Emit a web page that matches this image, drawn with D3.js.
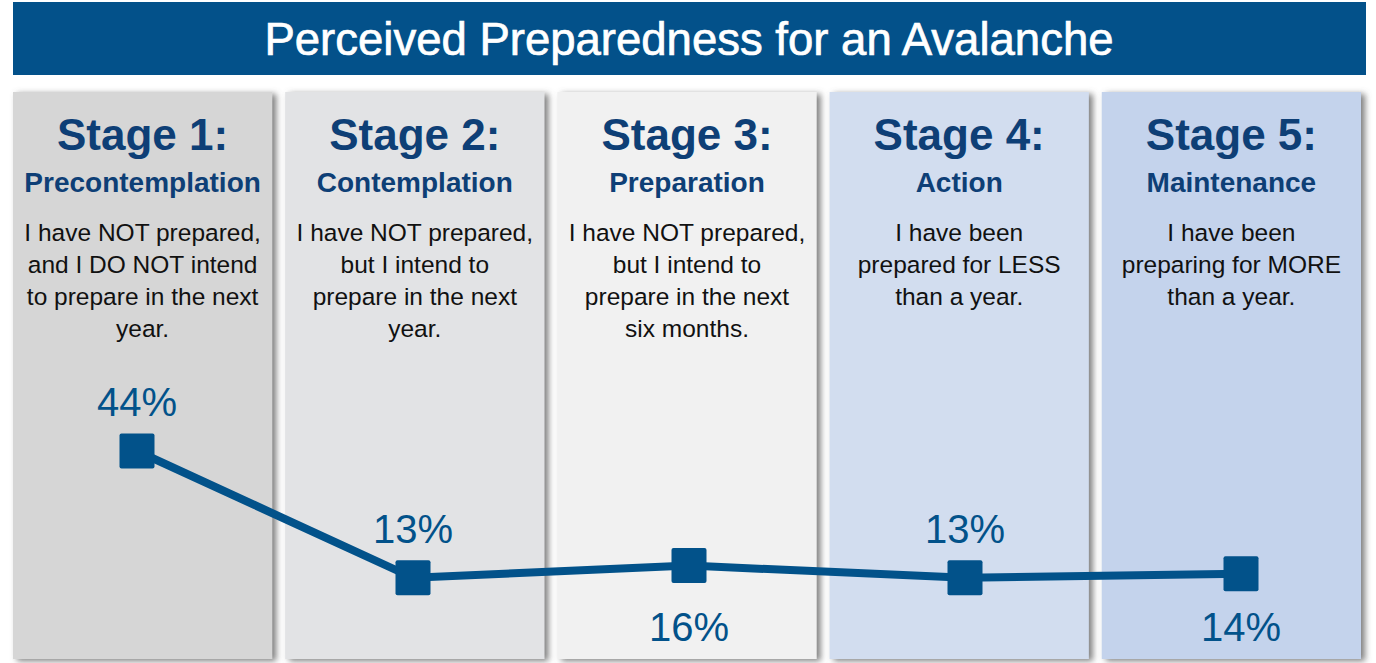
<!DOCTYPE html>
<html>
<head>
<meta charset="utf-8">
<script src="https://cdn.jsdelivr.net/npm/d3@7"></script>
<style>
  body { margin: 0; background: #fff; }
  svg { display: block; }
</style>
</head>
<body>
<div id="chart"></div>
<script>
const width = 1376;
const height = 663;

const title = "Perceived Preparedness for an Avalanche";
const stages = ["Stage 1:", "Stage 2:", "Stage 3:", "Stage 4:", "Stage 5:"];
const stageNames = ["Precontemplation", "Contemplation", "Preparation", "Action", "Maintenance"];
const descriptions = [
  ["I have NOT prepared,", "and I DO NOT intend", "to prepare in the next", "year."],
  ["I have NOT prepared,", "but I intend to", "prepare in the next", "year."],
  ["I have NOT prepared,", "but I intend to", "prepare in the next", "six months."],
  ["I have been", "prepared for LESS", "than a year."],
  ["I have been", "preparing for MORE", "than a year."]
];
const values = [44, 13, 16, 13, 14];
const labelSide = ["above", "above", "below", "above", "below"];
const panelColors = ["#d6d6d6", "#e2e3e5", "#f1f1f1", "#d2ddef", "#c4d3ec"];

const blue = "#02528a";
const darkBlue = "#0e3f76";
const font = "'Liberation Sans', Arial, sans-serif";

const svg = d3.select("#chart")
  .append("svg")
    .attr("width", width)
    .attr("height", height);

const defs = svg.append("defs");
defs.append("filter")
    .attr("id", "shadow")
    .attr("x", "-10%").attr("y", "-10%")
    .attr("width", "130%").attr("height", "130%")
  .append("feDropShadow")
    .attr("dx", 4)
    .attr("dy", 2)
    .attr("stdDeviation", 3)
    .attr("flood-color", "#6f6f6f")
    .attr("flood-opacity", 0.9);

// title banner
svg.append("rect")
  .attr("x", 13).attr("y", 2)
  .attr("width", 1353).attr("height", 73)
  .attr("fill", "#03518a");

svg.append("text")
  .attr("x", 689).attr("y", 55)
  .attr("text-anchor", "middle")
  .attr("fill", "#fff")
  .attr("stroke", "#fff")
  .attr("stroke-width", 0.7)
  .style("font-family", font)
  .style("font-size", "45.5px")
  .text(title);

// panel bands
const band = d3.scaleBand()
  .domain(d3.range(stages.length))
  .range([13, 1361])
  .paddingInner(0.0477)
  .paddingOuter(0);

const panels = svg.selectAll(".panel")
  .data(stages)
  .enter()
  .append("g")
    .attr("class", "panel");

panels.append("rect")
  .attr("x", (d, i) => band(i))
  .attr("y", 92)
  .attr("width", band.bandwidth())
  .attr("height", 567)
  .attr("fill", (d, i) => panelColors[i])
  .attr("filter", "url(#shadow)");

const cx = (i) => band(i) + band.bandwidth() / 2;

panels.append("text")
  .attr("x", (d, i) => cx(i))
  .attr("y", 150)
  .attr("text-anchor", "middle")
  .attr("fill", darkBlue)
  .style("font-family", font)
  .style("font-weight", "bold")
  .style("font-size", "44px")
  .text(d => d);

panels.append("text")
  .attr("x", (d, i) => cx(i))
  .attr("y", 192)
  .attr("text-anchor", "middle")
  .attr("fill", darkBlue)
  .style("font-family", font)
  .style("font-weight", "bold")
  .style("font-size", "28px")
  .text((d, i) => stageNames[i]);

panels.each(function(d, i) {
  const t = d3.select(this).append("text")
    .attr("text-anchor", "middle")
    .attr("fill", "#111")
    .style("font-family", font)
    .style("font-size", "24.5px");
  descriptions[i].forEach((line, j) => {
    t.append("tspan")
      .attr("x", cx(i))
      .attr("y", 241 + j * 32)
      .text(line);
  });
});

// line chart
const x = d3.scalePoint()
  .domain(d3.range(values.length))
  .range([137, 1241]);

const y = d3.scaleLinear()
  .domain([0, 44])
  .range([631, 451]);

const line = d3.line()
  .x((d, i) => x(i))
  .y(d => y(d));

svg.append("path")
  .datum(values)
  .attr("fill", "none")
  .attr("stroke", blue)
  .attr("stroke-width", 8)
  .attr("d", line);

const markerSize = 35;
svg.selectAll(".marker")
  .data(values)
  .enter()
  .append("rect")
    .attr("class", "marker")
    .attr("x", (d, i) => x(i) - markerSize / 2)
    .attr("y", d => y(d) - markerSize / 2)
    .attr("width", markerSize)
    .attr("height", markerSize)
    .attr("rx", 2)
    .attr("fill", blue);

svg.selectAll(".value-label")
  .data(values)
  .enter()
  .append("text")
    .attr("class", "value-label")
    .attr("x", (d, i) => x(i))
    .attr("y", (d, i) => labelSide[i] === "above" ? y(d) - 35 : y(0) + 10)
    .attr("text-anchor", "middle")
    .attr("fill", blue)
    .style("font-family", font)
    .style("font-size", "40px")
    .text(d => d + "%");
</script>
</body>
</html>
